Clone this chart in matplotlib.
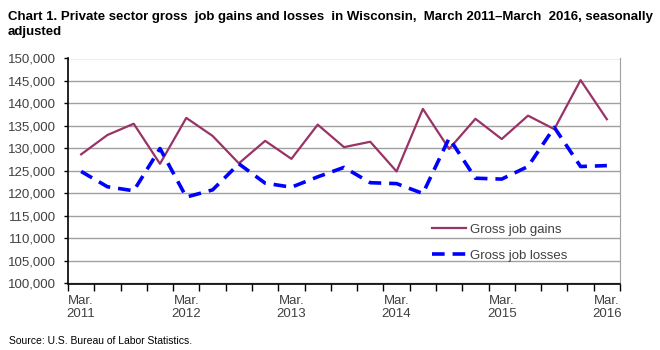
import matplotlib
matplotlib.use("Agg")
import matplotlib.pyplot as plt
from matplotlib.ticker import MultipleLocator, FixedLocator, FuncFormatter

quarters = ["Mar. 2011", "Jun. 2011", "Sep. 2011", "Dec. 2011",
            "Mar. 2012", "Jun. 2012", "Sep. 2012", "Dec. 2012",
            "Mar. 2013", "Jun. 2013", "Sep. 2013", "Dec. 2013",
            "Mar. 2014", "Jun. 2014", "Sep. 2014", "Dec. 2014",
            "Mar. 2015", "Jun. 2015", "Sep. 2015", "Dec. 2015",
            "Mar. 2016"]
gains = [128700, 133000, 135500, 126600, 136800, 132800, 126700, 131700,
         127700, 135300, 130300, 131500, 124900, 138800, 129900, 136600,
         132100, 137300, 134300, 145200, 136500]
losses = [124900, 121500, 120600, 130000, 119200, 120800, 126600, 122300,
          121400, 123700, 125800, 122400, 122200, 120000, 132300, 123400,
          123200, 126000, 134700, 126000, 126200]
tick_labels = ["Mar.\n2011", "Mar.\n2012", "Mar.\n2013", "Mar.\n2014",
               "Mar.\n2015", "Mar.\n2016"]
title_line1 = ("Chart 1. Private sector gross  job gains and losses  in Wisconsin,  "
               "March 2011\u2013March  2016, seasonally")
title_line2 = "adjusted"
source = "Source: U.S. Bureau of Labor Statistics."

plt.rcParams['font.family'] = ['Liberation Sans', 'DejaVu Sans']

fig = plt.figure(figsize=(6.6, 3.5), dpi=100)
ax = fig.add_axes([68/660, 1-283.5/350, 552/660, 225/350])

x = list(range(len(quarters)))
ax.plot(x, gains, color="#993366", lw=1.6, label="Gross job gains", zorder=3)
ax.plot(x, losses, color="#0000FF", lw=2.6, ls=(0, (3.5, 2.2)),
        label="Gross job losses", zorder=3)

ax.set_xlim(-0.5, len(quarters) - 0.5)
ax.set_ylim(100000, 150000)
ax.yaxis.set_major_locator(MultipleLocator(5000))
ax.yaxis.set_major_formatter(FuncFormatter(lambda v, p: f"{int(v):,}"))
ax.grid(axis="y", color="#A0A0A0", lw=1, zorder=0)
ax.set_axisbelow(True)

ax.xaxis.set_major_locator(FixedLocator([0, 4, 8, 12, 16, 20]))
ax.set_xticklabels(tick_labels)
ax.xaxis.set_minor_locator(FixedLocator([i - 0.5 for i in range(len(quarters) + 1)]))
ax.tick_params(axis="x", which="major", length=0, pad=8, labelsize=9.5,
               labelcolor="#404040")
ax.tick_params(axis="x", which="minor", length=5, width=1, color="black",
               direction="out")
ax.tick_params(axis="y", length=3, width=1, color="black", labelsize=9.5,
               labelcolor="#404040", pad=5.5)

ax.spines["top"].set_visible(False)
ax.spines["right"].set_color("#A0A0A0")
ax.spines["left"].set_color("black")
ax.spines["bottom"].set_color("black")
ax.spines["left"].set_linewidth(1.2)
ax.spines["bottom"].set_linewidth(1.2)

leg = ax.legend(loc="upper left", bbox_to_anchor=(0.649, 0.289), frameon=False,
                fontsize=9.5, handlelength=2.65, labelspacing=1.05,
                handletextpad=0.3, borderaxespad=0)
for t in leg.get_texts():
    t.set_color("#404040")

fig.text(8/660, 1-20/350, title_line1, ha="left", va="baseline", fontsize=9.5,
         fontweight="bold")
fig.text(8/660, 1-35/350, title_line2, ha="left", va="baseline", fontsize=9.5,
         fontweight="bold")
fig.text(9/660, 1-341/350, source, ha="left", va="center", fontsize=7.5)

fig.savefig("out.png", dpi=100)
